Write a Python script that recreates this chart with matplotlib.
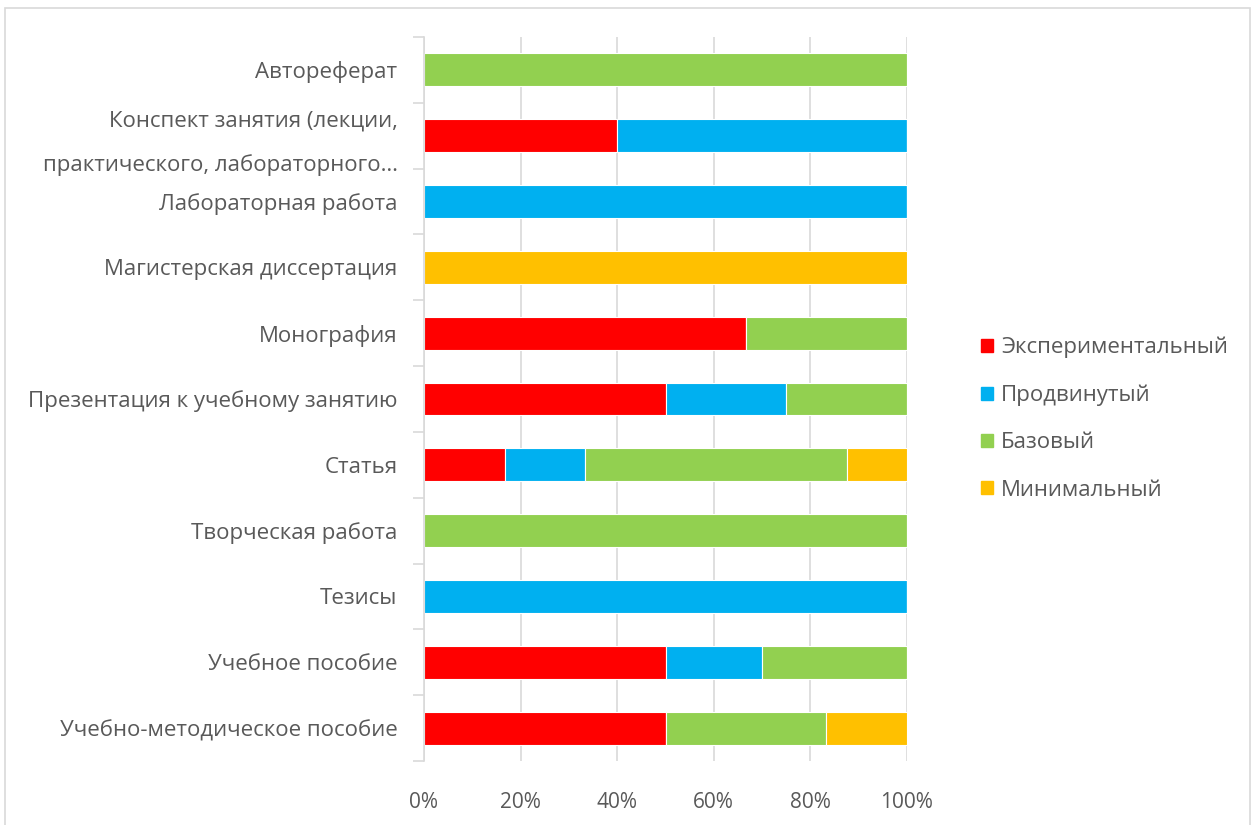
import matplotlib.pyplot as plt
import matplotlib.patches as mpatches
import matplotlib.transforms as mtransforms
import numpy as np

categories = ["Автореферат",
              "Конспект занятия (лекции,\nпрактического, лабораторного…",
              "Лабораторная работа",
              "Магистерская диссертация",
              "Монография",
              "Презентация к учебному занятию",
              "Статья",
              "Творческая работа",
              "Тезисы",
              "Учебное пособие",
              "Учебно-методическое пособие"]

series_names = ["Экспериментальный", "Продвинутый", "Базовый", "Минимальный"]
series_colors = ["#FF0000", "#00B0F0", "#92D050", "#FFC000"]

experimental = [0, 40, 0, 0, 66.7, 50, 16.7, 0, 0, 50, 50]
advanced = [0, 60, 100, 0, 0, 25, 16.7, 0, 100, 20, 0]
basic = [100, 0, 0, 0, 33.3, 25, 54.1, 100, 0, 30, 33.3]
minimal = [0, 0, 0, 100, 0, 0, 12.5, 0, 0, 0, 16.7]

plt.rcParams['font.family'] = ['Open Sans', 'DejaVu Sans']
text_color = "#595959"

fig = plt.figure(figsize=(12.59, 8.25), dpi=100)
ax = fig.add_axes([424 / 1259, 1 - 761 / 825, 483 / 1259, 724 / 825])

y = np.arange(len(categories))
left = np.zeros(len(categories))
for vals, name, col in zip([experimental, advanced, basic, minimal], series_names, series_colors):
    vals = np.array(vals, dtype=float)
    ax.barh(y, vals, left=left, height=0.5, color=col, edgecolor="white", linewidth=0.8, label=name)
    left += vals

ax.set_ylim(len(categories) - 0.5, -0.5)
ax.set_xlim(0, 100)
ax.set_yticks(y)
ax.set_yticklabels(categories, fontsize=16, color=text_color, linespacing=2.3)
ax.set_xticks(np.arange(0, 101, 20))
ax.set_xticklabels([f"{v}%" for v in range(0, 101, 20)], fontsize=15, color=text_color)
ax.tick_params(axis='y', length=0, pad=19)
ax.tick_params(axis='x', length=0, pad=22)
ax.set_yticks(np.arange(-0.5, len(categories), 1), minor=True)
ax.tick_params(axis='y', which='minor', length=8, color="#d9d9d9", width=1.2)

# nudge the two-line label up a little
lbl = ax.get_yticklabels()[1]
lbl.set_transform(lbl.get_transform() + mtransforms.ScaledTranslation(0, 0.06, fig.dpi_scale_trans))

ax.grid(axis='x', color="#d9d9d9", linewidth=1.2)
ax.set_axisbelow(True)
for s in ['top', 'right', 'bottom']:
    ax.spines[s].set_visible(False)
ax.spines['left'].set_color("#d9d9d9")
ax.spines['left'].set_linewidth(1.2)

handles = [mpatches.Patch(color=c, label=n) for n, c in zip(series_names, series_colors)]
leg = fig.legend(handles=handles, loc='upper left', bbox_to_anchor=(972 / 1259, 1 - 328 / 825),
                 frameon=False, fontsize=16, handlelength=0.55, handleheight=0.55,
                 handletextpad=0.35, labelspacing=1.18, borderaxespad=0)
for t in leg.get_texts():
    t.set_color(text_color)

frame = mpatches.Rectangle((5 / 1259, -0.05), 1245 / 1259, 1.05 - 8 / 825, transform=fig.transFigure,
                           fill=False, edgecolor="#d9d9d9", linewidth=1.2)
fig.patches.append(frame)

fig.savefig("out.png", dpi=100)
